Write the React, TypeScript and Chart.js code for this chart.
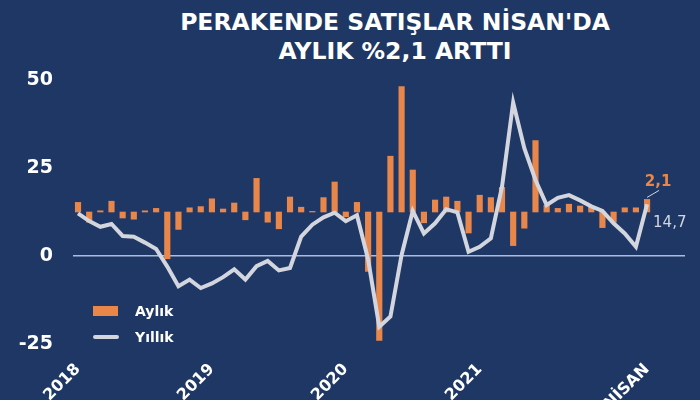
import React, { useEffect, useRef } from "react";
import Chart from "chart.js/auto";

// months Jan 2018 .. Apr 2022, x = month index
const tickPositions: number[] = [0, 12, 24, 36, 51];
const tickLabels: string[] = ["2018", "2019", "2020", "2021", "NİSAN"];
const yTicks: number[] = [-25, 0, 25, 50];

// Aylık (monthly % change), drawn on its own hidden axis
const monthly: number[] = [
  1.6, -1.7, 0.2, 1.8, -1.0, -1.2, 0.2, 0.6, -7.8, -2.9, 0.7, 0.9,
  2.2, 0.5, 1.5, -1.3, 5.6, -1.7, -2.8, 2.5, 0.8, 0.1, 2.4, 5.0,
  -0.8, 1.6, -9.9, -21.4, 9.3, 20.9, 7.0, -1.8, 2.0, 2.5, 1.8, -3.5,
  2.8, 2.4, 4.1, -5.6, -2.7, 11.9, 1.1, 0.6, 1.3, 1.0, 0.8, -2.6,
  -1.7, 0.7, 0.7, 2.1,
];

// Yıllık (annual % change)
const annual: number[] = [
  12.1, 9.9, 8.3, 9.1, 5.7, 5.5, 3.8, 2.0, -3.0, -8.6, -6.7, -9.1,
  -7.8, -6.0, -3.8, -6.7, -2.9, -1.4, -4.1, -3.4, 5.5, 8.9, 11.0, 12.3,
  9.9, 11.6, -1.0, -20.1, -17.2, 0.3, 12.8, 6.4, 9.3, 13.3, 12.4, 1.2,
  2.6, 5.0, 19.7, 43.6, 30.6, 21.6, 14.5, 16.5, 17.3, 15.8, 14.1, 12.8,
  9.3, 6.4, 2.6, 14.7,
];

const lastMonthlyLabel = "2,1";
const lastAnnualLabel = "14,7";

const BG = "#1e3764";
const ORANGE = "#e9874a";
const GREY = "#d3d6de";
const FONT = "'DejaVu Sans', sans-serif";

const endLabels = {
  id: "endLabels",
  afterDatasetsDraw(chart: any) {
    const ctx = chart.ctx;
    const lineMeta = chart.getDatasetMeta(0);
    const barMeta = chart.getDatasetMeta(1);
    const lp = lineMeta.data[lineMeta.data.length - 1];
    const bp = barMeta.data[barMeta.data.length - 1];
    if (!lp || !bp) return;
    ctx.save();
    // leader line
    ctx.strokeStyle = GREY;
    ctx.lineWidth = 1;
    ctx.beginPath();
    ctx.moveTo(bp.x, bp.y - 2);
    ctx.lineTo(bp.x + 12, bp.y - 9);
    ctx.stroke();
    ctx.font = `bold 15px ${FONT}`;
    ctx.textAlign = "center";
    ctx.textBaseline = "middle";
    ctx.fillStyle = ORANGE;
    ctx.fillText(lastMonthlyLabel, bp.x + 11, bp.y - 17);
    ctx.font = `15px ${FONT}`;
    ctx.textAlign = "left";
    ctx.fillStyle = GREY;
    ctx.fillText(lastAnnualLabel, lp.x + 6, lp.y + 19);
    ctx.restore();
  },
};

const App: React.FC = () => {
  const chartRef = useRef<HTMLCanvasElement>(null);

  useEffect(() => {
    const canvas = chartRef.current;
    if (!canvas) return;

    const chart = new Chart(canvas, {
      type: "bar",
      data: {
        datasets: [
          {
            type: "line",
            label: "Yıllık",
            data: annual.map((v, i) => ({ x: i, y: v })),
            borderColor: GREY,
            borderWidth: 4,
            pointRadius: 0,
            tension: 0,
            yAxisID: "y",
          },
          {
            type: "bar",
            label: "Aylık",
            data: monthly.map((v, i) => ({ x: i, y: v })),
            backgroundColor: ORANGE,
            barThickness: 5.5,
            yAxisID: "y2",
          },
        ] as any,
      },
      options: {
        animation: false,
        responsive: true,
        maintainAspectRatio: false,
        layout: { padding: { top: 80, right: 15, left: 0, bottom: 0 } },
        plugins: {
          legend: { display: false },
          tooltip: { enabled: false },
          title: { display: false },
        },
        scales: {
          x: {
            type: "linear",
            offset: false,
            min: -0.45,
            max: 54.4,
            grid: { display: false },
            border: { display: false },
            afterBuildTicks: (scale: any) => {
              scale.ticks = tickPositions.map((v) => ({ value: v }));
            },
            afterFit: (scale: any) => {
              scale.height = 56;
            },
            ticks: {
              autoSkip: false,
              minRotation: 45,
              maxRotation: 45,
              padding: 8,
              color: "#ffffff",
              font: { family: FONT, size: 16, weight: "bold" },
              callback: (value: any) => {
                const idx = tickPositions.indexOf(Number(value));
                return idx >= 0 ? tickLabels[idx] : "";
              },
            },
          },
          y: {
            min: -25,
            max: 50,
            afterBuildTicks: (scale: any) => {
              scale.ticks = yTicks.map((v) => ({ value: v }));
            },
            afterFit: (scale: any) => {
              scale.width = 73;
            },
            border: { display: false },
            grid: {
              drawTicks: false,
              lineWidth: 1.5,
              color: (c: any) => (c.tick && c.tick.value === 0 ? "#a9bddf" : "transparent"),
            },
            ticks: {
              padding: 20,
              color: "#ffffff",
              font: { family: FONT, size: 19, weight: "bold" },
            },
          },
          y2: {
            display: false,
            min: -22,
            max: 22,
          },
        },
      } as any,
      plugins: [endLabels],
    });

    return () => {
      chart.destroy();
    };
  }, []);

  return (
    <div
      style={{
        position: "absolute",
        left: 0,
        top: 0,
        width: 700,
        height: 400,
        background: BG,
        fontFamily: FONT,
        overflow: "hidden",
      }}
    >
      <div
        style={{
          position: "absolute",
          left: 95,
          top: 8,
          width: 600,
          textAlign: "center",
          color: "#ffffff",
          fontWeight: "bold",
          fontSize: 23.5,
          lineHeight: "28.5px",
        }}
      >
        PERAKENDE SATIŞLAR NİSAN'DA
        <br />
        AYLIK %2,1 ARTTI
      </div>
      <canvas ref={chartRef} style={{ position: "absolute", left: 0, top: 0 }}></canvas>
      <div
        style={{
          position: "absolute",
          left: 93,
          top: 300,
          color: "#ffffff",
          fontWeight: "bold",
          fontSize: 14,
        }}
      >
        <div style={{ display: "flex", alignItems: "center", height: 22 }}>
          <span style={{ display: "inline-block", width: 25, height: 10, background: ORANGE, marginRight: 17 }}></span>
          Aylık
        </div>
        <div style={{ display: "flex", alignItems: "center", height: 22, marginTop: 4 }}>
          <span
            style={{
              display: "inline-block",
              width: 26,
              height: 4,
              borderRadius: 2,
              background: GREY,
              marginRight: 16,
            }}
          ></span>
          Yıllık
        </div>
      </div>
    </div>
  );
};

export default App;
